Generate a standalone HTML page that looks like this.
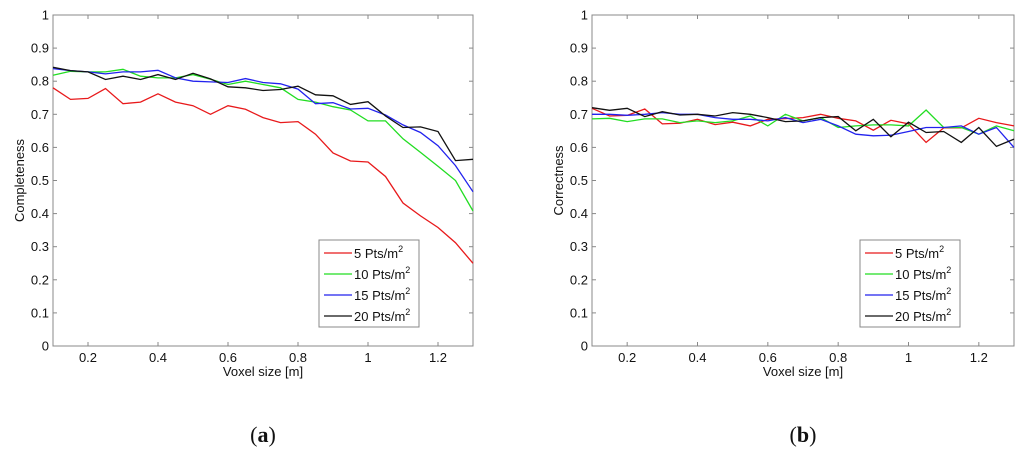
<!DOCTYPE html>
<html><head><meta charset="utf-8"><style>
html,body{margin:0;padding:0;background:#fff;width:1024px;height:458px;overflow:hidden}
svg text{font-family:"Liberation Sans",Arial,sans-serif;fill:#111}
</style></head><body>
<svg id="fig" width="1024" height="458" viewBox="0 0 1024 458" xmlns="http://www.w3.org/2000/svg"></svg>
<script>
const xValues=[0.1,0.15,0.2,0.25,0.3,0.35,0.4,0.45,0.5,0.55,0.6,0.65,0.7,0.75,0.8,0.85,0.9,0.95,1.0,1.05,1.1,1.15,1.2,1.25,1.3];
const seriesLabels=["5 Pts/m","10 Pts/m","15 Pts/m","20 Pts/m"];
const seriesColors=["#e8191b","#22dd22","#2222ee","#111111"];
const xTicks=[0.2,0.4,0.6,0.8,1,1.2];
const yTicks=[0,0.1,0.2,0.3,0.4,0.5,0.6,0.7,0.8,0.9,1];
const compRed=[0.78,0.745,0.748,0.778,0.732,0.737,0.762,0.737,0.726,0.70,0.726,0.715,0.69,0.675,0.678,0.64,0.583,0.559,0.556,0.512,0.432,0.393,0.358,0.312,0.25];
const compGreen=[0.818,0.83,0.828,0.828,0.836,0.815,0.81,0.81,0.82,0.806,0.79,0.80,0.79,0.78,0.745,0.737,0.723,0.713,0.68,0.68,0.626,0.585,0.543,0.50,0.408];
const compBlue=[0.838,0.832,0.828,0.822,0.828,0.828,0.833,0.81,0.80,0.798,0.796,0.808,0.796,0.792,0.776,0.732,0.735,0.716,0.718,0.698,0.668,0.645,0.605,0.545,0.466];
const compBlack=[0.842,0.832,0.828,0.805,0.815,0.805,0.82,0.805,0.824,0.807,0.783,0.78,0.772,0.775,0.785,0.759,0.756,0.73,0.738,0.695,0.66,0.662,0.648,0.56,0.564];
const corrRed=[0.718,0.695,0.697,0.716,0.671,0.673,0.685,0.669,0.676,0.665,0.685,0.687,0.69,0.70,0.688,0.68,0.652,0.682,0.671,0.615,0.659,0.659,0.688,0.675,0.665];
const corrGreen=[0.686,0.688,0.678,0.686,0.686,0.675,0.68,0.675,0.68,0.695,0.665,0.70,0.68,0.69,0.66,0.665,0.668,0.668,0.665,0.713,0.66,0.66,0.64,0.665,0.65];
const corrBlue=[0.70,0.70,0.697,0.70,0.705,0.70,0.70,0.69,0.685,0.685,0.68,0.69,0.675,0.685,0.665,0.64,0.635,0.637,0.648,0.66,0.66,0.665,0.64,0.66,0.60];
const corrBlack=[0.72,0.712,0.718,0.693,0.708,0.698,0.70,0.695,0.705,0.70,0.69,0.678,0.68,0.69,0.693,0.65,0.685,0.632,0.676,0.645,0.648,0.615,0.66,0.603,0.625];

const NS="http://www.w3.org/2000/svg";
const svg=document.getElementById('fig');
function mk(tag,attrs,parent,text){const e=document.createElementNS(NS,tag);for(const k in attrs)e.setAttribute(k,attrs[k]);if(text!==undefined)e.textContent=text;(parent||svg).appendChild(e);return e;}

function chart(cfg){
  const g=mk('g',{});
  
  
  const L=cfg.left,R=cfg.right,T=15,B=346;
  const sx=v=>L+(v-0.1)/(1.2)*(R-L);
  const sy=v=>B-v*(B-T);
  mk('rect',{x:L,y:T,width:R-L,height:B-T,fill:'#fff',stroke:'#888','stroke-width':1},g);
  yTicks.forEach(t=>{
    const y=sy(t);
    mk('line',{x1:L,x2:L+4,y1:y,y2:y,stroke:'#888'},g);
    mk('line',{x1:R-4,x2:R,y1:y,y2:y,stroke:'#888'},g);
    const tx=mk('text',{x:L-4,y:y+4.5,'text-anchor':'end','font-size':13},g,String(t));
    
    
  });
  xTicks.forEach(t=>{
    const x=sx(t);
    mk('line',{x1:x,x2:x,y1:B,y2:B-4,stroke:'#888'},g);
    mk('line',{x1:x,x2:x,y1:T,y2:T+4,stroke:'#888'},g);
    const tx=mk('text',{x:x,y:B+16,'text-anchor':'middle','font-size':13},g,String(t));
    
    
  });
  const xt=mk('text',{x:(L+R)/2,y:B+30,'text-anchor':'middle','font-size':13},g,'Voxel size [m]');
  
  
  const yt=mk('text',{x:0,y:0,'text-anchor':'middle','font-size':13,transform:`translate(${L-29},${(T+B)/2}) rotate(-90)`},g,cfg.ylabel);
  
  
  cfg.series.forEach((s,i)=>{
    const p=mk('polyline',{points:s.map((v,j)=>sx(xValues[j]).toFixed(1)+','+sy(v).toFixed(1)).join(' '),fill:'none',stroke:seriesColors[i],'stroke-width':1.3},g);
    
    
  });
  const lx=cfg.legendX,ly=240;
  const lg=mk('g',{},g);
  
  
  mk('rect',{x:lx,y:ly,width:100,height:87,fill:'#fff',stroke:'#888'},lg);
  seriesLabels.forEach((lab,i)=>{
    const y=ly+13+i*21;
    mk('line',{x1:lx+5,x2:lx+33,y1:y,y2:y,stroke:seriesColors[i],'stroke-width':1.3},lg);
    const t=mk('text',{x:lx+35,y:y+5,'font-size':13},lg,lab);
    
    
    mk('tspan',{dy:-6,'font-size':9},t,'2');
  });
  const c=mk('text',{x:(L+R)/2,y:442,'text-anchor':'middle','font-size':22},g,'');
  
  
  c.style.fontFamily='"Liberation Serif",serif';
  mk('tspan',{},c,'(');
  mk('tspan',{'font-weight':'bold'},c,cfg.letter);
  mk('tspan',{},c,')');
}
chart({name:'completeness-chart',left:53,right:473,ylabel:'Completeness',legendX:319,letter:'a',series:[compRed,compGreen,compBlue,compBlack]});
chart({name:'correctness-chart',left:592,right:1014,ylabel:'Correctness',legendX:860,letter:'b',series:[corrRed,corrGreen,corrBlue,corrBlack]});
</script>
</body></html>
